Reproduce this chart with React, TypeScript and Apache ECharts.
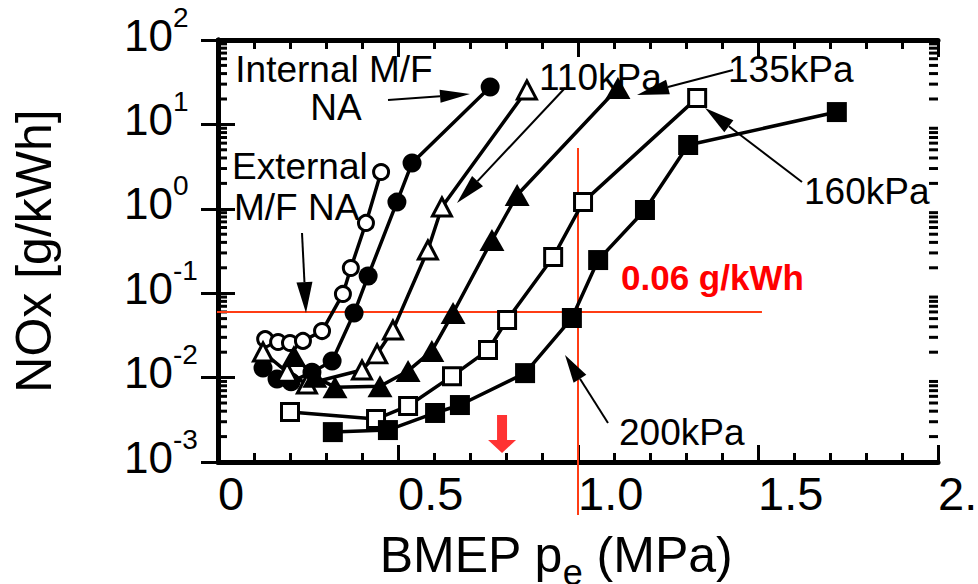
import React, { useEffect, useRef } from 'react';
import * as echarts from 'echarts';

const FONT = '"Liberation Sans", Arial, Helvetica, sans-serif';

// ---- tick labels ----
const xTickLabels = ['0', '0.5', '1.0', '1.5', '2.0'];
const yMinorTickValues: number[] = [];
[-3, -2, -1, 0, 1].forEach((d) => {
  [2, 3, 4, 5, 6, 7, 8, 9].forEach((k) => yMinorTickValues.push(k * Math.pow(10, d)));
});

// ---- series data (BMEP MPa, NOx g/kWh) ----
const extNA_x = [0.131, 0.167, 0.2, 0.236, 0.289, 0.347, 0.369, 0.411, 0.453];
const extNA_y = [0.0286, 0.0264, 0.0257, 0.0272, 0.0356, 0.098, 0.199, 0.68, 2.73];

const intNA_x = [0.125, 0.164, 0.203, 0.261, 0.317, 0.378, 0.417, 0.497, 0.539, 0.756];
const intNA_y = [0.013, 0.0096, 0.0089, 0.0116, 0.0157, 0.0582, 0.16, 1.2, 3.49, 27.7];

const kpa110_x = [0.125, 0.192, 0.247, 0.4, 0.442, 0.486, 0.583, 0.622, 0.858];
const kpa110_y = [0.0201, 0.0116, 0.0084, 0.0123, 0.0191, 0.0366, 0.325, 1.05, 25.6];

const kpa135_x = [0.211, 0.269, 0.325, 0.45, 0.528, 0.594, 0.653, 0.761, 0.831, 1.111];
const kpa135_y = [0.018, 0.0102, 0.0077, 0.0079, 0.012, 0.0207, 0.0582, 0.426, 1.46, 27.0];

const kpa160_x = [0.2, 0.439, 0.528, 0.65, 0.75, 0.803, 0.931, 1.014, 1.331];
const kpa160_y = [0.00391, 0.00323, 0.00461, 0.0104, 0.0212, 0.0481, 0.268, 1.2, 20.6];

const kpa200_x = [0.319, 0.472, 0.603, 0.672, 0.853, 0.983, 1.056, 1.186, 1.306, 1.719];
const kpa200_y = [0.00226, 0.00239, 0.00381, 0.00473, 0.0113, 0.0508, 0.247, 0.968, 5.7, 14.0];

// reference lines: NOx limit 0.06 g/kWh and BMEP 1.0 MPa
const limitNOx = 0.06;
const limitLineX = [-0.089, 1.511];
const refBMEP = 1.0;
const refLineY = [5.25, 0.000235];
const redArrowPoint = [0.789, 0.00215];

const zip = (xs: number[], ys: number[]) => xs.map((x, i) => [x, ys[i]]);

// ---- annotation layout (pixels) ----
const annotationArrows = [
  { from: [388, 100], to: [470, 94], len: 30, w: 13 },
  { from: [302, 233], to: [306, 313], len: 31, w: 16 },
  { from: [565, 88], to: [457, 203], len: 30, w: 15 },
  { from: [733, 70], to: [637, 95], len: 32, w: 15 },
  { from: [802, 182], to: [705, 108], len: 30, w: 15 },
  { from: [608, 423], to: [565, 355], len: 28, w: 15 },
];

const annotationTexts = [
  { text: 'Internal M/F', x: 334, y: 69, align: 'center' },
  { text: 'NA', x: 336, y: 107, align: 'center' },
  { text: 'External', x: 232, y: 166, align: 'left' },
  { text: 'M/F NA', x: 234, y: 207, align: 'left' },
  { text: '110kPa', x: 539, y: 77, align: 'left' },
  { text: '135kPa', x: 728, y: 69, align: 'left' },
  { text: '160kPa', x: 804, y: 191, align: 'left' },
  { text: '200kPa', x: 619, y: 432, align: 'left' },
];

function arrowGraphics() {
  const out: any[] = [];
  annotationArrows.forEach((a) => {
    const dx = a.to[0] - a.from[0];
    const dy = a.to[1] - a.from[1];
    const L = Math.sqrt(dx * dx + dy * dy);
    const ux = dx / L;
    const uy = dy / L;
    const bx = a.to[0] - ux * a.len;
    const by = a.to[1] - uy * a.len;
    const px = -uy * (a.w / 2);
    const py = ux * (a.w / 2);
    out.push({
      type: 'line',
      shape: { x1: a.from[0], y1: a.from[1], x2: bx, y2: by },
      style: { stroke: '#000', lineWidth: 2 },
      z: 50,
    });
    out.push({
      type: 'polygon',
      shape: { points: [a.to, [bx + px, by + py], [bx - px, by - py]] },
      style: { fill: '#000' },
      z: 50,
    });
  });
  return out;
}

export default function App() {
  const ref = useRef<HTMLDivElement>(null);

  useEffect(() => {
    if (!ref.current) return;
    const chart = echarts.init(ref.current, undefined, { renderer: 'svg' });

    const lineW = 3.5;
    const mkSeries = (name: string, data: number[][], symbol: string, size: any, filled: boolean) => ({
      name,
      type: 'line',
      data,
      symbol,
      symbolSize: size,
      showSymbol: true,
      lineStyle: { color: '#000', width: lineW },
      itemStyle: filled
        ? { color: '#000', borderColor: '#000', borderWidth: 0 }
        : { color: '#fff', borderColor: '#000', borderWidth: 3 },
      emphasis: { disabled: true },
      z: 3,
    });

    const axisTickCommon = { show: true, inside: true, length: 17, lineStyle: { color: '#000', width: 3 } };
    const minorTickCommon = { show: true, splitNumber: 5, length: 9, lineStyle: { color: '#000', width: 3 } };

    const option: any = {
      animation: false,
      backgroundColor: '#fff',
      grid: { left: 218, right: 40, top: 40, bottom: 122, containLabel: false, outerBoundsMode: 'none' },
      xAxis: [
        {
          type: 'value',
          position: 'bottom',
          min: 0,
          max: 2,
          interval: 0.5,
          axisLine: { show: true, lineStyle: { color: '#000', width: 5 } },
          axisTick: axisTickCommon,
          minorTick: minorTickCommon,
          splitLine: { show: false },
          axisLabel: {
            show: true,
            align: 'left',
            verticalAlign: 'top',
            margin: 8,
            fontSize: 47,
            fontFamily: FONT,
            color: '#000',
            showMaxLabel: true,
            formatter: (v: number) => xTickLabels[Math.round(v / 0.5)] ?? String(v),
          },
          name: '{m|BMEP p}{e|e}{m| (MPa)}',
          nameLocation: 'middle',
          nameGap: 68,
          nameTextStyle: {
            fontFamily: FONT,
            color: '#000',
            padding: [0, 44, 0, 0],
            rich: {
              m: { fontSize: 50, lineHeight: 50, fontFamily: FONT, color: '#000', verticalAlign: 'top' },
              e: { fontSize: 36, lineHeight: 36, fontFamily: FONT, color: '#000', verticalAlign: 'top', padding: [24, 0, 0, 0] },
            },
          },
        },
        {
          type: 'value',
          position: 'top',
          min: 0,
          max: 2,
          interval: 0.5,
          axisLine: { show: true, lineStyle: { color: '#000', width: 5 } },
          axisTick: axisTickCommon,
          minorTick: minorTickCommon,
          splitLine: { show: false },
          axisLabel: { show: false },
        },
      ],
      yAxis: [
        {
          type: 'log',
          logBase: 10,
          position: 'left',
          min: 0.001,
          max: 100,
          splitNumber: 5,
          axisLine: { show: true, lineStyle: { color: '#000', width: 5 } },
          axisTick: axisTickCommon,
          splitLine: { show: false },
          axisLabel: {
            show: true,
            align: 'left',
            margin: 94,
            padding: [0, 0, 10, 0],
            formatter: (v: number) => `{b|10}{s|${Math.round(Math.log10(v))}}`,
            rich: {
              b: { fontSize: 44, lineHeight: 44, fontFamily: FONT, color: '#000', verticalAlign: 'bottom' },
              s: { fontSize: 28, lineHeight: 28, fontFamily: FONT, color: '#000', verticalAlign: 'bottom', padding: [0, 0, 26, 0] },
            },
          },
          name: 'NOx [g/kWh]',
          nameLocation: 'middle',
          nameGap: 159,
          nameTextStyle: { fontSize: 50, fontFamily: FONT, color: '#000' },
        },
        {
          type: 'log',
          logBase: 10,
          position: 'right',
          min: 0.001,
          max: 100,
          splitNumber: 5,
          axisLine: { show: true, lineStyle: { color: '#000', width: 5 } },
          axisTick: axisTickCommon,
          splitLine: { show: false },
          axisLabel: { show: false },
        },
      ],
      series: [
        {
          name: 'yMinorTicks',
          type: 'custom',
          clip: false,
          silent: true,
          data: yMinorTickValues.map((v) => [0, v]),
          renderItem: (params: any, api: any) => {
            const v = api.value(1);
            const pL = api.coord([0, v]);
            const pR = api.coord([2, v]);
            return {
              type: 'group',
              children: [
                { type: 'line', shape: { x1: pL[0], y1: pL[1], x2: pL[0] + 9, y2: pL[1] }, style: { stroke: '#000', lineWidth: 3 } },
                { type: 'line', shape: { x1: pR[0] - 9, y1: pR[1], x2: pR[0], y2: pR[1] }, style: { stroke: '#000', lineWidth: 3 } },
              ],
            };
          },
          z: 1,
        },
        {
          name: 'limit',
          type: 'line',
          clip: false,
          silent: true,
          symbol: 'none',
          data: limitLineX.map((x) => [x, limitNOx]),
          lineStyle: { color: '#ff3c14', width: 2 },
          z: 2,
        },
        {
          name: 'bmepRef',
          type: 'line',
          clip: false,
          silent: true,
          symbol: 'none',
          data: refLineY.map((y) => [refBMEP, y]),
          lineStyle: { color: '#ff3c14', width: 2 },
          z: 2,
        },
        mkSeries('External M/F NA', zip(extNA_x, extNA_y), 'circle', 15, false),
        mkSeries('Internal M/F NA', zip(intNA_x, intNA_y), 'circle', 19, true),
        mkSeries('110kPa', zip(kpa110_x, kpa110_y), 'triangle', [19, 18], false),
        mkSeries('135kPa', zip(kpa135_x, kpa135_y), 'triangle', [25, 22], true),
        mkSeries('160kPa', zip(kpa160_x, kpa160_y), 'rect', 17, false),
        mkSeries('200kPa', zip(kpa200_x, kpa200_y), 'rect', 20, true),
        {
          name: 'redArrow',
          type: 'scatter',
          silent: true,
          data: [redArrowPoint],
          symbol: 'path://M9,0 L19,0 L19,25 L28,25 L14,38 L0,25 L9,25 Z',
          symbolSize: [28, 38],
          itemStyle: { color: '#ff0000' },
          z: 4,
        },
      ],
      graphic: [
        ...annotationTexts.map((t) => ({
          type: 'text',
          x: t.x,
          y: t.y,
          z: 50,
          style: {
            text: t.text,
            fontSize: 37,
            fontFamily: FONT,
            fill: '#000',
            align: t.align,
            verticalAlign: 'middle',
          },
        })),
        {
          type: 'text',
          x: 621,
          y: 277,
          z: 50,
          style: {
            text: '0.06 g/kWh',
            fontSize: 35,
            fontWeight: 'bold',
            fontFamily: FONT,
            fill: '#ff0000',
            align: 'left',
            verticalAlign: 'middle',
          },
        },
        ...arrowGraphics(),
      ],
    };

    chart.setOption(option);
    return () => {
      chart.dispose();
    };
  }, []);

  return (
    <div
      ref={ref}
      style={{ position: 'absolute', left: 0, top: 0, width: 978, height: 584, background: '#fff', overflow: 'hidden' }}
    />
  );
}
